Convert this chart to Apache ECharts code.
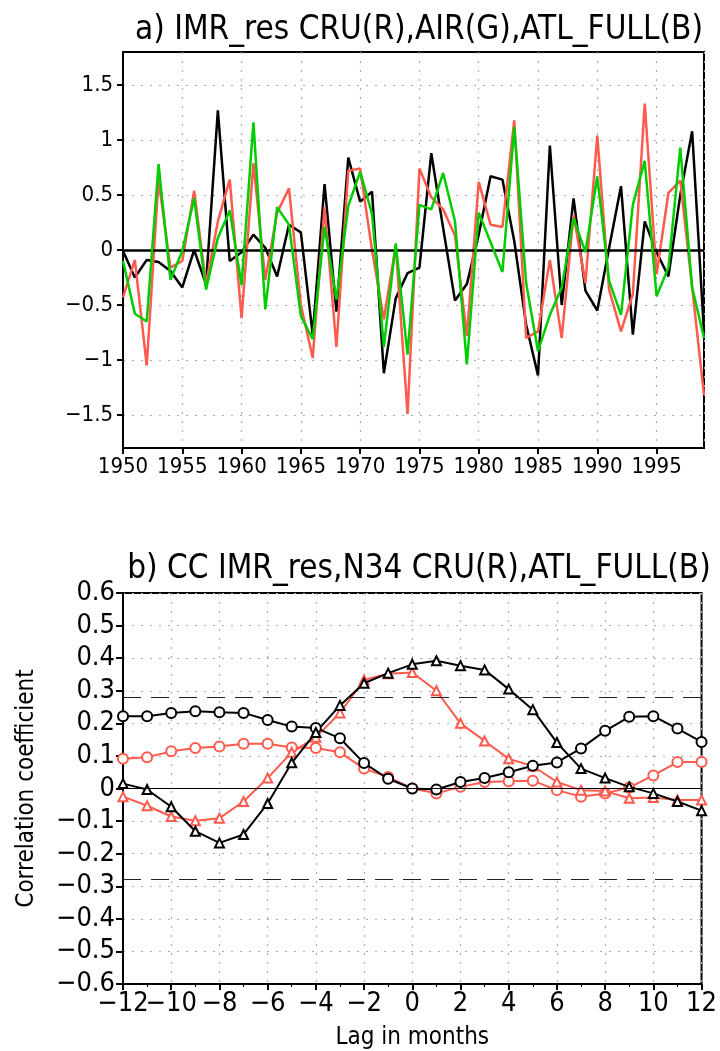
<!DOCTYPE html>
<html><head><meta charset="utf-8">
<script src="https://cdn.jsdelivr.net/npm/echarts@6/dist/echarts.min.js"></script>
<style>html,body{margin:0;padding:0;background:#fff}#c{width:720px;height:1051px}</style>
</head><body><div id="c"></div><script>
// ---------- Panel a data ----------
const years = [1950,1951,1952,1953,1954,1955,1956,1957,1958,1959,1960,1961,1962,1963,1964,1965,1966,1967,1968,1969,1970,1971,1972,1973,1974,1975,1976,1977,1978,1979,1980,1981,1982,1983,1984,1985,1986,1987,1988,1989,1990,1991,1992,1993,1994,1995,1996,1997,1998,1999];
const cruRes = [-0.43,-0.09,-1.05,0.64,-0.16,-0.10,0.54,-0.31,0.26,0.64,-0.62,0.79,-0.27,0.34,0.56,-0.50,-0.98,0.39,-0.88,0.72,0.74,0.00,-0.63,0.04,-1.49,0.74,0.48,0.37,0.13,-0.78,0.62,0.23,0.21,1.18,-0.80,-0.74,-0.09,-0.80,0.32,-0.30,1.04,-0.36,-0.74,-0.40,1.33,-0.22,0.52,0.63,-0.34,-1.32];
const airRes = [-0.10,-0.58,-0.65,0.78,-0.27,-0.01,0.47,-0.36,0.11,0.36,-0.32,1.16,-0.54,0.39,0.23,-0.60,-0.81,0.21,-0.45,0.40,0.71,0.33,-0.88,0.06,-0.95,0.41,0.37,0.70,0.26,-1.04,0.34,0.07,-0.20,1.12,-0.30,-0.92,-0.59,-0.34,0.29,-0.02,0.67,-0.28,-0.59,0.41,0.81,-0.42,-0.16,0.93,-0.34,-0.80];
const atlRes = [-0.01,-0.25,-0.09,-0.11,-0.19,-0.34,0.00,-0.31,1.27,-0.10,-0.02,0.14,0.02,-0.24,0.23,0.16,-0.77,0.60,-0.56,0.84,0.44,0.53,-1.12,-0.44,-0.21,-0.16,0.88,0.20,-0.46,-0.31,0.14,0.67,0.64,0.08,-0.68,-1.14,0.95,-0.50,0.47,-0.37,-0.55,0.02,0.58,-0.77,0.26,-0.02,-0.24,0.50,1.08,-0.75];
const yTicksA = [-1.5,-1,-0.5,0,0.5,1,1.5];

// ---------- Panel b data ----------
const lags = [-12,-11,-10,-9,-8,-7,-6,-5,-4,-3,-2,-1,0,1,2,3,4,5,6,7,8,9,10,11,12];
const cruCircle = [0.091,0.096,0.114,0.124,0.129,0.137,0.137,0.126,0.124,0.111,0.061,0.035,0.0,-0.015,0.005,0.02,0.022,0.024,-0.005,-0.025,-0.015,0.003,0.04,0.081,0.081];
const cruTriangle = [-0.025,-0.053,-0.086,-0.099,-0.091,-0.04,0.032,0.111,0.157,0.232,0.333,0.352,0.356,0.30,0.20,0.146,0.091,0.069,0.02,-0.005,-0.008,-0.03,-0.028,-0.035,-0.035];
const atlCircle = [0.222,0.222,0.232,0.237,0.234,0.232,0.21,0.19,0.186,0.154,0.078,0.03,0.0,-0.003,0.02,0.032,0.05,0.07,0.08,0.123,0.177,0.22,0.222,0.184,0.143];
const atlTriangle = [0.015,-0.003,-0.056,-0.131,-0.167,-0.141,-0.046,0.079,0.172,0.255,0.323,0.354,0.381,0.392,0.377,0.364,0.305,0.242,0.141,0.061,0.032,0.005,-0.015,-0.04,-0.068];
const lagLabelsMain = [-10,-8,-6,-4,-2,0,2,4,6,8,10,12];
const lagLabelsFirst = [-12];
const sigLevel = 0.28;

const titleA = 'a) IMR_res CRU(R),AIR(G),ATL_FULL(B)';
const titleB = 'b) CC IMR_res,N34 CRU(R),ATL_FULL(B)';

const FONT = "'DejaVu Sans Condensed','Liberation Sans Narrow',sans-serif";
const RED = '#ff5a4e', GREEN = '#00cc00', BLACK = '#000';
const mns = s => String(s).replace('-', '\u2212');
const pair = (xs, ys) => xs.map((x, i) => [x, ys[i]]);

const gridLine = {show:true, lineStyle:{color:'#aaa', type:[2,7], width:1.2}};
const axisLineBlack = {show:true, onZero:false, lineStyle:{color:'#000', width:2}};
const lagLabelStyle = {fontSize:27, color:'#000', margin:6, fontFamily:FONT, formatter:v => mns(v)};

const chart = echarts.init(document.getElementById('c'), null, {renderer:'canvas'});
const option = {
  animation:false,
  backgroundColor:'#fff',
  textStyle:{fontFamily:FONT},
  title:[
    {text:titleA, left:414, top:9, textAlign:'center', textStyle:{fontFamily:FONT, fontSize:33, fontWeight:'normal', color:'#000'}},
    {text:titleB, left:414, top:548, textAlign:'center', textStyle:{fontFamily:FONT, fontSize:33, fontWeight:'normal', color:'#000'}}
  ],
  grid:[
    {left:123, right:16, top:52, height:396, show:true, borderColor:'#000', borderWidth:2, backgroundColor:'transparent'},
    {left:123, right:17, top:593, height:395, show:true, borderColor:'#000', borderWidth:2, backgroundColor:'transparent'}
  ],
  xAxis:[
    {gridIndex:0, type:'value', min:1950, max:1999, interval:5,
     axisLine:axisLineBlack, axisTick:{show:true, length:6, lineStyle:{color:'#000', width:2}},
     axisLabel:{showMaxLabel:false, fontSize:22, color:'#000', margin:8, fontFamily:FONT, formatter:v => String(v)},
     splitLine:gridLine},
    {gridIndex:1, type:'value', min:-12, max:12, interval:2,
     name:'Lag in months', nameLocation:'middle', nameGap:42,
     nameTextStyle:{fontSize:24, color:'#000', fontFamily:FONT},
     axisLine:axisLineBlack, axisTick:{show:true, length:6, lineStyle:{color:'#000', width:2}},
     minorTick:{show:true, splitNumber:2, length:3, lineStyle:{color:'#000', width:1}},
     axisLabel:Object.assign({customValues:lagLabelsMain}, lagLabelStyle),
     splitLine:gridLine},
    {gridIndex:1, type:'value', min:-12, max:12, position:'bottom',
     axisLine:{show:false}, axisTick:{show:false}, splitLine:{show:false},
     axisLabel:Object.assign({customValues:lagLabelsFirst}, lagLabelStyle)}
  ],
  yAxis:[
    {gridIndex:0, type:'value', min:-1.8, max:1.8,
     axisLine:axisLineBlack,
     axisTick:{show:true, length:6, customValues:yTicksA, lineStyle:{color:'#000', width:2}},
     axisLabel:{customValues:yTicksA, fontSize:22, color:'#000', margin:10, fontFamily:FONT, formatter:v => mns(v)},
     splitLine:gridLine},
    {gridIndex:1, type:'value', min:-0.6, max:0.6, interval:0.1,
     name:'Correlation coefficient', nameLocation:'middle', nameGap:84, nameRotate:90,
     nameTextStyle:{fontSize:24, color:'#000', fontFamily:FONT},
     axisLine:axisLineBlack, axisTick:{show:true, length:7, lineStyle:{color:'#000', width:2}},
     axisLabel:{fontSize:27, color:'#000', margin:8, fontFamily:FONT,
       formatter:v => { const r = Math.round(v*10)/10; return r === 0 ? '0' : mns(r.toFixed(1)); }},
     splitLine:gridLine}
  ],
  series:[
    {type:'line', xAxisIndex:0, yAxisIndex:0, data:pair(years, atlRes), showSymbol:false, symbol:'none',
     lineStyle:{color:BLACK, width:2.5}, z:3,
     markLine:{silent:true, symbol:'none', label:{show:false}, lineStyle:{color:'#000', type:'solid', width:2.5}, data:[{yAxis:0}]}},
    {type:'line', xAxisIndex:0, yAxisIndex:0, data:pair(years, cruRes), showSymbol:false, symbol:'none',
     lineStyle:{color:RED, width:2.5}, z:4},
    {type:'line', xAxisIndex:0, yAxisIndex:0, data:pair(years, airRes), showSymbol:false, symbol:'none',
     lineStyle:{color:GREEN, width:2.5}, z:5},

    {type:'line', xAxisIndex:1, yAxisIndex:1, data:pair(lags, atlCircle), symbol:'emptyCircle', symbolSize:10,
     lineStyle:{color:BLACK, width:2}, itemStyle:{color:BLACK, borderWidth:2}, z:4,
     markLine:{silent:true, symbol:'none', label:{show:false},
       data:[
         {yAxis:0, lineStyle:{color:'#000', type:'solid', width:1}},
         {yAxis:sigLevel, lineStyle:{color:'#222', type:[18,10], width:1}},
         {yAxis:-sigLevel, lineStyle:{color:'#222', type:[18,10], width:1}}
       ]}},
    {type:'line', xAxisIndex:1, yAxisIndex:1, data:pair(lags, atlTriangle), symbol:'emptyTriangle', symbolSize:9,
     lineStyle:{color:BLACK, width:2}, itemStyle:{color:BLACK, borderWidth:2}, z:4},
    {type:'line', xAxisIndex:1, yAxisIndex:1, data:pair(lags, cruCircle), symbol:'emptyCircle', symbolSize:10,
     lineStyle:{color:RED, width:2}, itemStyle:{color:RED, borderWidth:2}, z:3},
    {type:'line', xAxisIndex:1, yAxisIndex:1, data:pair(lags, cruTriangle), symbol:'emptyTriangle', symbolSize:9,
     lineStyle:{color:RED, width:2}, itemStyle:{color:RED, borderWidth:2}, z:3}
  ]
};
chart.setOption(option);
</script></body></html>
